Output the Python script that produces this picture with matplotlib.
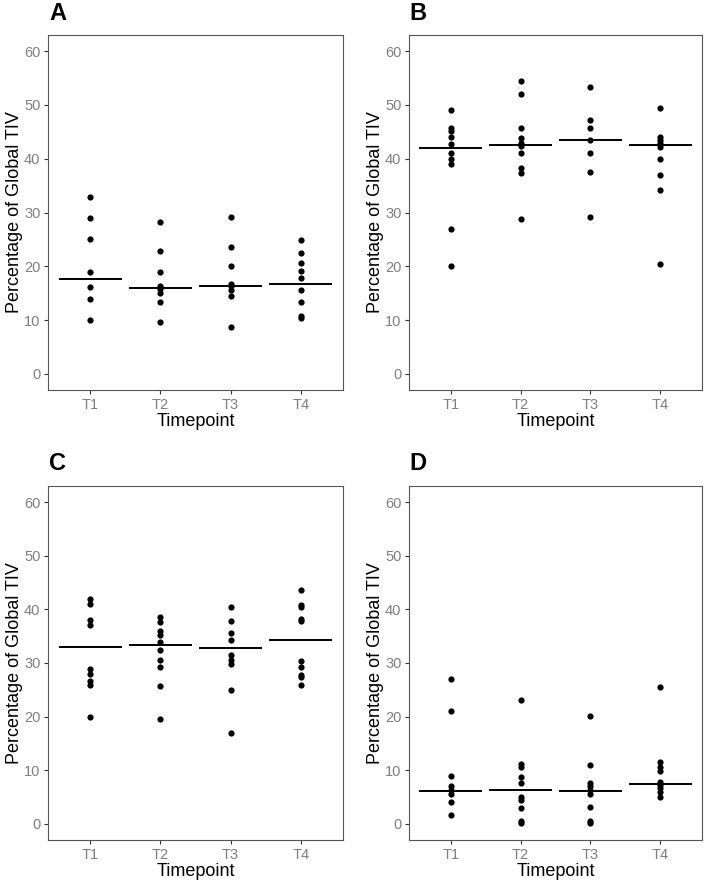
import matplotlib
matplotlib.use("Agg")
import matplotlib.pyplot as plt

plt.rcParams['font.family'] = ['Liberation Sans', 'DejaVu Sans']

timepoints = ["T1", "T2", "T3", "T4"]

# values, one list per timepoint
panel_a = [
    [32.8, 29.0, 25.0, 19.0, 16.1, 14.0, 10.0],
    [28.2, 22.8, 19.0, 16.3, 15.8, 15.0, 13.3, 9.6],
    [29.1, 23.6, 20.0, 16.8, 16.3, 15.5, 14.5, 8.8],
    [24.9, 22.4, 20.7, 19.2, 17.9, 15.5, 13.4, 10.7, 10.3],
]
panel_b = [
    [49.0, 45.7, 45.1, 44.1, 42.7, 41.0, 39.9, 39.0, 27.0, 20.0],
    [54.4, 52.1, 45.7, 43.8, 42.9, 42.4, 41.0, 38.3, 37.3, 28.8],
    [53.4, 47.2, 45.7, 43.4, 41.1, 37.6, 29.1],
    [49.5, 44.0, 43.5, 42.9, 42.2, 40.0, 36.9, 34.1, 20.5],
]
panel_c = [
    [41.9, 41.0, 38.0, 37.0, 28.9, 28.0, 26.7, 25.9, 19.9],
    [38.5, 37.6, 35.9, 35.3, 34.0, 32.5, 30.5, 29.2, 25.7, 19.5],
    [40.5, 37.9, 35.6, 34.2, 31.5, 30.5, 29.9, 24.9, 16.9],
    [43.6, 40.8, 40.5, 38.2, 37.9, 30.4, 29.3, 27.8, 27.3, 25.9],
]
panel_d = [
    [27.0, 21.0, 9.0, 7.0, 6.4, 5.6, 4.0, 1.7],
    [23.1, 11.2, 10.6, 8.7, 7.7, 5.0, 4.4, 3.0, 0.5, 0.1],
    [20.2, 10.9, 7.7, 7.0, 6.4, 5.6, 3.1, 0.6, 0.2],
    [25.6, 11.5, 10.7, 9.9, 7.9, 7.3, 6.7, 5.9, 5.1],
]

# horizontal summary lines per timepoint
lines_a = [17.6, 16.0, 16.3, 16.7]
lines_b = [41.9, 42.5, 43.5, 42.5]
lines_c = [33.0, 33.4, 32.8, 34.2]
lines_d = [6.1, 6.4, 6.2, 7.4]

labels = ["A", "B", "C", "D"]
panels = [panel_a, panel_b, panel_c, panel_d]
lines = [lines_a, lines_b, lines_c, lines_d]

W, H = 707, 886
fig = plt.figure(figsize=(W / 100, H / 100), dpi=100)

# axes boxes in pixels: left, top, right, bottom
boxes = [(48, 35, 343, 390), (409, 35, 702, 390),
         (48, 486, 343, 840), (409, 486, 702, 840)]
label_pos = [(49, 13), (409, 13), (49, 463), (409, 463)]

for lab, data, summ, box, lp in zip(labels, panels, lines, boxes, label_pos):
    l, t, r, b = box
    ax = fig.add_axes([l / W, (H - b) / H, (r - l) / W, (b - t) / H])
    for i, vals in enumerate(data):
        x = i + 1
        ax.scatter([x] * len(vals), vals, s=20, color="black", zorder=3,
                   linewidths=0)
        ax.plot([x - 0.45, x + 0.45], [summ[i], summ[i]], color="black",
                lw=1.4, zorder=2, solid_capstyle="butt")
    ax.set_xlim(0.4, 4.6)
    ax.set_ylim(-3, 63)
    ax.set_xticks(range(1, 5))
    ax.set_xticklabels(timepoints)
    ax.set_yticks([0, 10, 20, 30, 40, 50, 60])
    ax.tick_params(colors="#333333", labelcolor="#7f7f7f", labelsize=10.5,
                   length=3, width=0.8, pad=2.5)
    for sp in ax.spines.values():
        sp.set_color("#555555")
        sp.set_linewidth(0.8)
    ax.set_xlabel("Timepoint", fontsize=13, labelpad=1)
    ax.set_ylabel("Percentage of Global TIV", fontsize=13, labelpad=1)
    fig.text(lp[0] / W, 1 - lp[1] / H, lab, fontsize=17, fontweight="bold",
             va="center", ha="left")

fig.savefig("out.png", dpi=100)
